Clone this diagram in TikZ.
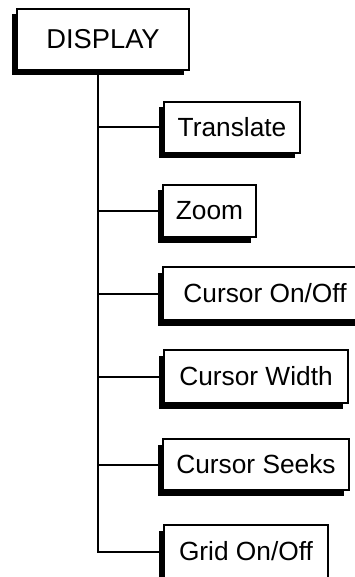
\documentclass[tikz,border=0pt]{standalone}
\usepackage{fontspec}
\setmainfont{Liberation Sans}
\usepackage{xcolor}
\usepackage{tikz}
\usetikzlibrary{positioning, shadows}

\begin{document}
\begin{tikzpicture}[x=1pt, y=-1pt]
% style: menu_edge
\tikzstyle{menu_edge}=[line width=2pt]
% style: inner_line
\tikzstyle{inner_line}=[draw=gray!60,line width=0.8pt]
% style: Menu_style
\tikzstyle{Menu_style}=[rectangle,draw=black,line width=2pt,fill=white,outer sep=0pt,inner sep=0pt,anchor=north west,font=\fontsize{26.3}{30}\selectfont,drop shadow={shadow xshift=-5pt,shadow yshift=-5.5pt,fill=black,opacity=1},
    append after command={[inner_line] ([shift={(3pt,-4pt)}]\tikzlastnode.north west) |- ([shift={(-3pt,3pt)}]\tikzlastnode.south east)}]
% style: Root_style
\tikzstyle{Root_style}=[Menu_style,font=\fontsize{27.3}{31}\selectfont]

\useasboundingbox (0,0) rectangle (354,577);

% node group: root_group
% node: display
\node[Root_style, minimum width=172pt, minimum height=61pt] (display) at (17, 9) {DISPLAY};
\coordinate (trunk) at (98, 70);
% end of node group: root_group

% node group: item_group
% node: translate
\node[Menu_style, minimum width=136pt, minimum height=51pt] (translate) at (164, 102) {Translate};
% node: zoom
\node[Menu_style, minimum width=93pt, minimum height=52pt] (zoom) at (163, 185) {Zoom};
% node: cursor_on_off
\node[Menu_style, minimum width=204pt, minimum height=53pt] (cursor_on_off) at (163, 267) {Cursor On/Off};
% node: cursor_width
\node[Menu_style, minimum width=184pt, minimum height=53pt] (cursor_width) at (164, 350) {Cursor Width};
% node: cursor_seeks
\node[Menu_style, minimum width=186pt, minimum height=51pt] (cursor_seeks) at (163, 439) {Cursor Seeks};
% node: grid_on_off
\node[Menu_style, minimum width=164pt, minimum height=53pt] (grid_on_off) at (164, 525) {Grid On/Off};
% end of node group: item_group

% edge from display down to grid_on_off
\draw[menu_edge] (trunk) |- (grid_on_off.west);

% edges from the trunk to the items
\draw[menu_edge] (trunk |- translate.west) -- (translate.west);
\draw[menu_edge] (trunk |- zoom.west) -- (zoom.west);
\draw[menu_edge] (trunk |- cursor_on_off.west) -- (cursor_on_off.west);
\draw[menu_edge] (trunk |- cursor_width.west) -- (cursor_width.west);
\draw[menu_edge] (trunk |- cursor_seeks.west) -- (cursor_seeks.west);

\end{tikzpicture}
\end{document}
